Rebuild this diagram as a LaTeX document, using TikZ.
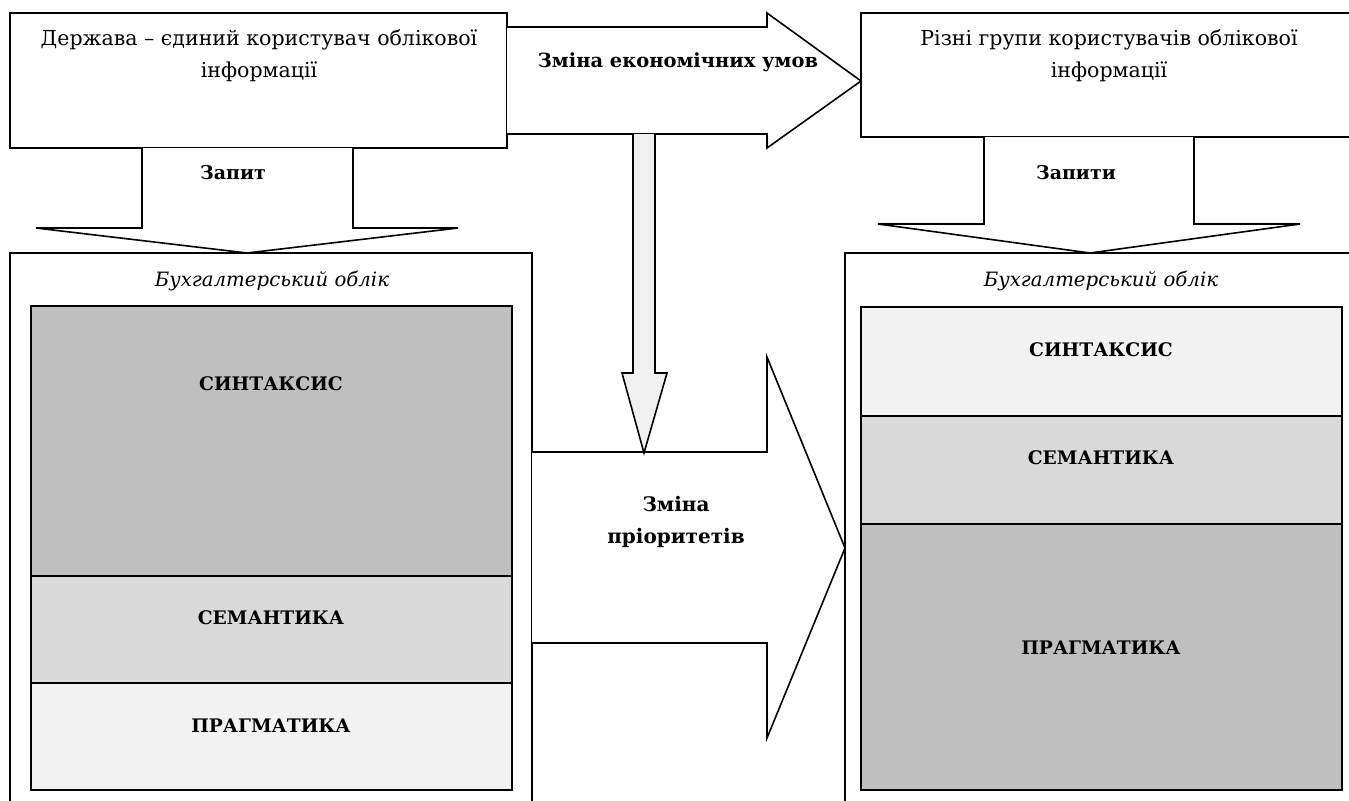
\documentclass[tikz,border=0pt]{standalone}
\usepackage{fontspec}
\setmainfont{DejaVu Serif}
\usetikzlibrary{positioning}

\definecolor{darkgr}{HTML}{BFBFBF}
\definecolor{midgr}{HTML}{D9D9D9}
\definecolor{lightgr}{HTML}{F2F2F2}
\definecolor{arrgr}{HTML}{F0F0F0}

\tikzset{
  box/.style={draw, line width=1.4pt},
  cell/.style={draw, line width=1.4pt},
  blockarr/.style={draw, fill=white, line width=1.2pt, line join=miter},
  txt/.style={font=\fontsize{15.4}{24}\selectfont, align=center},
  btxt/.style={font=\bfseries\fontsize{14.6}{23}\selectfont, align=center},
  capt/.style={font=\bfseries\fontsize{14}{23}\selectfont},
  itxt/.style={font=\itshape\fontsize{14.8}{24}\selectfont}
}

\begin{document}
\begin{tikzpicture}[x=0.75pt, y=-0.75pt]
        \useasboundingbox (0,0) rectangle (1349,800);
        \clip (0,0) rectangle (1349,800);

        \draw[box] (10,13) rectangle (507,148);
        \draw[box] (861,13) rectangle (1400,137);
        \draw[box] (10,253) rectangle (532,830);
        \draw[box] (845,253) rectangle (1400,830);

        \draw[cell, fill=darkgr]  (31,306)  rectangle (512,576);
        \draw[cell, fill=midgr]   (31,576)  rectangle (512,683);
        \draw[cell, fill=lightgr] (31,683)  rectangle (512,790);

        \draw[cell, fill=lightgr] (861,307) rectangle (1342,416);
        \draw[cell, fill=midgr]   (861,416) rectangle (1342,524);
        \draw[cell, fill=darkgr]  (861,524) rectangle (1342,790);

        \draw[blockarr] (507,27) -- (767,27) -- (767,13) -- (861,81)
          -- (767,148) -- (767,134) -- (507,134);
        \draw[blockarr] (142,148) -- (142,228) -- (36,228) -- (247,253)
          -- (458,228) -- (353,228) -- (353,148);
        \draw[blockarr] (984,137) -- (984,224) -- (878,224) -- (1090,253)
          -- (1300,224) -- (1194,224) -- (1194,137);
        \draw[blockarr] (532,452) -- (767,452) -- (767,357) -- (845,548)
          -- (767,738) -- (767,643) -- (532,643);
        \draw[blockarr, fill=arrgr] (633,134) -- (633,373) -- (622,373) -- (644,453)
          -- (667,373) -- (655,373) -- (655,134);

        \node[txt] (state) at (259,56)
          {Держава – єдиний користувач облікової\\інформації};
        \node[txt] (groups) at (1109,56)
          {Різні групи користувачів облікової\\інформації};

        \node[btxt] (econ) at (678,62) {Зміна економічних умов};
        \node[btxt, font=\bfseries\fontsize{14.2}{23}\selectfont] (req)  at (233,173) {Запит};
        \node[btxt, font=\bfseries\fontsize{14.2}{23}\selectfont] (reqs) at (1076,173) {Запити};
        \node[btxt, font=\bfseries\fontsize{15}{23.5}\selectfont] (prio) at (676,522) {Зміна\\пріоритетів};

        \node[itxt] (accL) at (272,281) {Бухгалтерський облік};
        \node[itxt] (accR) at (1101,281) {Бухгалтерський облік};

        \node[capt] (synL) at (271,384) {СИНТАКСИС};
        \node[capt] (semL) at (271,618) {СЕМАНТИКА};
        \node[capt] (prgL) at (271,726) {ПРАГМАТИКА};

        \node[capt] (synR) at (1101,350) {СИНТАКСИС};
        \node[capt] (semR) at (1101,458) {СЕМАНТИКА};
        \node[capt] (prgR) at (1101,648) {ПРАГМАТИКА};
      \end{tikzpicture}
\end{document}
